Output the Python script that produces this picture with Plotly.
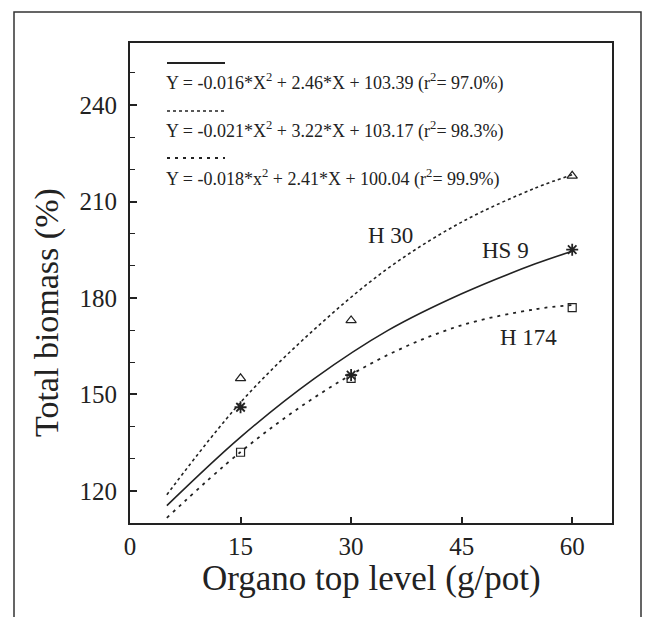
import plotly.graph_objects as go

# ---- data ----
levels = [15, 30, 60]
h30_vals = [155, 173, 218]
hs9_vals = [146, 156, 195]
h174_vals = [132, 155, 177]

# fitted curves
fit_x = [5, 15, 25, 35, 45, 55, 60]
h30_fit = [118.8, 147.5, 170.2, 189.2, 203.6, 214.2, 218.3]
hs9_fit = [115.4, 136.7, 154.9, 169.9, 181.3, 190.6, 194.5]
h174_fit = [111.6, 132.1, 149.0, 162.3, 171.5, 176.5, 177.8]

eq_texts = [
    "Y = -0.016*X<sup>2</sup> + 2.46*X + 103.39 (r<sup>2</sup>= 97.0%)",
    "Y = -0.021*X<sup>2</sup> + 3.22*X + 103.17 (r<sup>2</sup>= 98.3%)",
    "Y = -0.018*x<sup>2</sup> + 2.41*X + 100.04 (r<sup>2</sup>= 99.9%)",
]
series_labels = ["H 30", "HS 9", "H 174"]
x_ticks = [0, 15, 30, 45, 60]
y_ticks = [120, 150, 180, 210, 240]

FONT = "Liberation Serif"
INK = "#222222"

fig = go.Figure()

# fitted curves
fig.add_trace(go.Scatter(x=fit_x, y=h30_fit, mode="lines", line_shape="spline",
                         line=dict(color=INK, width=1.6, dash="dot"), showlegend=False))
fig.add_trace(go.Scatter(x=fit_x, y=hs9_fit, mode="lines", line_shape="spline",
                         line=dict(color=INK, width=1.6), showlegend=False))
fig.add_trace(go.Scatter(x=fit_x, y=h174_fit, mode="lines", line_shape="spline",
                         line=dict(color=INK, width=1.8, dash="3px,5px"), showlegend=False))

# observed points
fig.add_trace(go.Scatter(x=levels, y=h30_vals, mode="markers",
                         marker=dict(symbol="triangle-up-open", size=9, color=INK,
                                     line=dict(width=1.2, color=INK)), showlegend=False))
fig.add_trace(go.Scatter(x=levels, y=hs9_vals, mode="markers",
                         marker=dict(symbol="asterisk-open", size=10, color=INK,
                                     line=dict(width=1.8, color=INK)), showlegend=False))
fig.add_trace(go.Scatter(x=levels, y=h174_vals, mode="markers",
                         marker=dict(symbol="square-open", size=8, color=INK,
                                     line=dict(width=1.2, color=INK)), showlegend=False))


# plot-area geometry (paper coords): plot spans px 130..612 horizontally, 43..523 vertically
def px(xp):
    return (xp - 130) / 482.0


def py(yp):
    return (523 - yp) / 480.0


shapes = []
# outer frame
shapes.append(dict(type="rect", xref="paper", yref="paper",
                   x0=px(14), x1=px(641), y0=py(640), y1=py(12),
                   line=dict(color="#333333", width=1.5)))
# legend line samples
samples = [(63, dict(color=INK, width=1.8)),
           (111, dict(color=INK, width=1.6, dash="dot")),
           (158, dict(color=INK, width=1.8, dash="3px,5px"))]
for yp, ln in samples:
    shapes.append(dict(type="line", xref="paper", yref="paper",
                       x0=px(167), x1=px(225), y0=py(yp), y1=py(yp), line=ln))

annotations = []
for yp, t in zip([82, 130, 178], eq_texts):
    annotations.append(dict(xref="paper", yref="paper", x=px(164), y=py(yp),
                            text=t, showarrow=False, xanchor="left", yanchor="middle",
                            font=dict(family=FONT, size=18, color=INK)))

# series labels
for txt, (xp, yp) in zip(series_labels, [(390, 235), (505, 250), (528, 338)]):
    annotations.append(dict(xref="paper", yref="paper", x=px(xp), y=py(yp), text=txt,
                            showarrow=False, xanchor="center", yanchor="middle",
                            font=dict(family=FONT, size=23, color=INK)))

# axis titles
annotations.append(dict(xref="paper", yref="paper", x=px(371), y=py(578),
                        text="Organo top level (g/pot)", showarrow=False,
                        xanchor="center", yanchor="middle",
                        font=dict(family=FONT, size=35, color=INK)))
annotations.append(dict(xref="paper", yref="paper", x=px(47), y=py(313),
                        text="Total biomass (%)", showarrow=False, textangle=-90,
                        xanchor="center", yanchor="middle",
                        font=dict(family=FONT, size=34, color=INK)))

fig.update_layout(
    width=655, height=617,
    margin=dict(l=130, r=43, t=43, b=94),
    paper_bgcolor="white", plot_bgcolor="white",
    shapes=shapes, annotations=annotations,
    font=dict(family=FONT, color=INK),
)
fig.update_xaxes(range=[0, 65.4], tickvals=x_ticks, ticktext=[str(v) for v in x_ticks],
                 ticks="inside", ticklen=6, tickwidth=1.5, tickcolor=INK,
                 showline=True, linecolor=INK, linewidth=2, mirror=True,
                 showgrid=False, zeroline=False,
                 tickfont=dict(family=FONT, size=25, color=INK))
fig.update_yaxes(range=[110, 259.3], tickvals=y_ticks, ticktext=[str(v) for v in y_ticks],
                 ticks="inside", ticklen=7, tickwidth=1.5, tickcolor=INK,
                 minor=dict(dtick=10, tick0=0, ticks="inside", ticklen=5, tickwidth=1.2,
                            tickcolor=INK, showgrid=False),
                 showline=True, linecolor=INK, linewidth=2, mirror=True,
                 showgrid=False, zeroline=False, ticklabelstandoff=6,
                 tickfont=dict(family=FONT, size=25, color=INK))

fig.write_html("out.html", config={"displayModeBar": False},
               post_script="document.body.style.margin='0';document.body.style.overflow='hidden';")
